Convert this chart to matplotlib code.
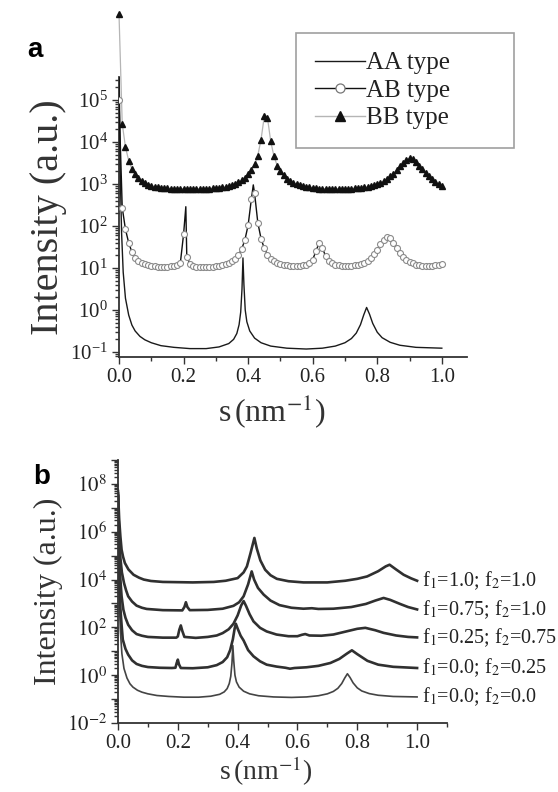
import matplotlib.pyplot as plt
import numpy as np
from matplotlib.ticker import FixedLocator, LogLocator, FuncFormatter, NullFormatter, MultipleLocator

plt.rcParams['font.family'] = ['Liberation Serif', 'DejaVu Serif']
plt.rcParams['mathtext.fontset'] = 'stix'

# ---- panel a: symbols every 0.01 nm^-1, values as log10(intensity)
S_MARK = np.round(np.arange(101) * 0.01, 2)

AB_LOG = [5.00, 2.44, 1.92, 1.60, 1.38, 1.24, 1.17, 1.12, 1.09, 1.07,
          1.05, 1.04, 1.03, 1.03, 1.03, 1.03, 1.04, 1.05, 1.07, 1.12,
          1.80, 1.27, 1.10, 1.05, 1.03, 1.02, 1.02, 1.02, 1.02, 1.03,
          1.04, 1.05, 1.07, 1.09, 1.12, 1.16, 1.22, 1.31, 1.45, 1.67,
          2.02, 2.64, 2.78, 2.08, 1.70, 1.47, 1.32, 1.22, 1.16, 1.12,
          1.09, 1.07, 1.06, 1.05, 1.05, 1.05, 1.05, 1.06, 1.08, 1.12,
          1.20, 1.40, 1.60, 1.48, 1.28, 1.17, 1.11, 1.08, 1.06, 1.05,
          1.05, 1.05, 1.05, 1.06, 1.07, 1.09, 1.12, 1.17, 1.24, 1.33,
          1.44, 1.56, 1.67, 1.75, 1.72, 1.60, 1.48, 1.36, 1.27, 1.20,
          1.15, 1.11, 1.08, 1.06, 1.05, 1.05, 1.05, 1.05, 1.06, 1.07,
          1.10]

BB_LOG = [7.05, 4.44, 3.88, 3.56, 3.36, 3.24, 3.14, 3.07, 3.02, 2.98,
          2.96, 2.94, 2.92, 2.91, 2.90, 2.90, 2.89, 2.89, 2.89, 2.89,
          2.89, 2.89, 2.89, 2.89, 2.89, 2.89, 2.89, 2.89, 2.89, 2.90,
          2.90, 2.91, 2.92, 2.93, 2.95, 2.97, 3.00, 3.04, 3.09, 3.15,
          3.23, 3.33, 3.47, 3.68, 4.06, 4.61, 4.57, 4.02, 3.66, 3.44,
          3.31, 3.21, 3.13, 3.07, 3.03, 3.00, 2.97, 2.95, 2.93, 2.92,
          2.91, 2.90, 2.89, 2.89, 2.89, 2.89, 2.89, 2.89, 2.89, 2.89,
          2.89, 2.89, 2.89, 2.90, 2.90, 2.91, 2.92, 2.93, 2.95, 2.97,
          3.00, 3.03, 3.07, 3.12, 3.18, 3.25, 3.33, 3.42, 3.51, 3.58,
          3.62, 3.60, 3.53, 3.44, 3.35, 3.26, 3.18, 3.11, 3.05, 3.00,
          2.96]

# extra line points of the AB curve between the symbols
AB_SPIKE_S = [0.207, 0.416]
AB_SPIKE_LOG = [2.46, 2.98]

AA_S = [0.0, 0.004, 0.008, 0.013, 0.02, 0.03, 0.04, 0.05, 0.065, 0.08,
        0.10, 0.13, 0.17, 0.22, 0.27, 0.31, 0.34, 0.355, 0.365, 0.372,
        0.377, 0.381, 0.384, 0.387, 0.391, 0.396, 0.405, 0.42, 0.44, 0.47,
        0.52, 0.58, 0.63, 0.67, 0.70, 0.72, 0.735, 0.748, 0.758, 0.767,
        0.776, 0.786, 0.80, 0.815, 0.84, 0.87, 0.92, 1.0]
AA_LOG = [6.0, 3.2, 1.84, 0.90, 0.28, -0.12, -0.36, -0.50, -0.63, -0.71,
          -0.78, -0.85, -0.89, -0.92, -0.92, -0.88, -0.80, -0.70, -0.56, -0.35,
          -0.05, 0.50, 1.24, 0.60, 0.00, -0.28, -0.50, -0.67, -0.78, -0.86,
          -0.91, -0.93, -0.91, -0.86, -0.78, -0.68, -0.55, -0.35, -0.12, 0.06,
          -0.10, -0.32, -0.53, -0.66, -0.77, -0.84, -0.89, -0.91]

# ---- panel b
B2_S = [0.0, 0.004, 0.008, 0.012, 0.016, 0.025, 0.034, 0.047, 0.062, 0.08,
        0.10, 0.14, 0.18, 0.192, 0.196, 0.20, 0.204, 0.21, 0.25, 0.30,
        0.33, 0.35, 0.365, 0.375, 0.384, 0.39, 0.394, 0.40, 0.41, 0.42,
        0.435, 0.453, 0.475, 0.497, 0.53, 0.56, 0.575, 0.59, 0.63, 0.67,
        0.71, 0.74, 0.765, 0.782, 0.80, 0.834, 0.87, 0.92, 1.0]
B2_LOG = [7.5, 4.0, 2.8, 2.1, 1.49, 1.10, 0.86, 0.62, 0.47, 0.39,
          0.34, 0.31, 0.30, 0.31, 0.50, 0.65, 0.45, 0.30, 0.29, 0.33,
          0.42, 0.55, 0.75, 1.05, 1.50, 1.95, 2.15, 1.95, 1.65, 1.45,
          1.05, 0.79, 0.58, 0.44, 0.36, 0.31, 0.27, 0.30, 0.33, 0.39,
          0.51, 0.68, 0.90, 1.04, 0.88, 0.60, 0.44, 0.35, 0.30]

B3_S = [0.0, 0.004, 0.008, 0.012, 0.018, 0.025, 0.034, 0.047, 0.062, 0.08,
        0.10, 0.15, 0.195, 0.20, 0.205, 0.21, 0.215, 0.222, 0.26, 0.30,
        0.33, 0.35, 0.37, 0.386, 0.40, 0.412, 0.42, 0.428, 0.44, 0.453,
        0.475, 0.497, 0.53, 0.57, 0.60, 0.615, 0.626, 0.64, 0.68, 0.72,
        0.76, 0.80, 0.827, 0.86, 0.888, 0.93, 0.97, 1.0]
B3_LOG = [7.5, 5.0, 4.0, 3.3, 2.74, 2.40, 2.11, 1.88, 1.72, 1.65,
          1.60, 1.57, 1.57, 1.62, 1.90, 2.08, 1.85, 1.60, 1.56, 1.60,
          1.66, 1.76, 1.92, 2.15, 2.50, 2.92, 3.10, 2.90, 2.55, 2.25,
          1.98, 1.83, 1.70, 1.63, 1.63, 1.69, 1.72, 1.66, 1.65, 1.70,
          1.82, 1.94, 1.98, 1.88, 1.77, 1.66, 1.60, 1.58]

B4_S = [0.0, 0.004, 0.008, 0.013, 0.02, 0.027, 0.034, 0.047, 0.062, 0.08,
        0.096, 0.15, 0.215, 0.222, 0.227, 0.232, 0.24, 0.30, 0.35, 0.386,
        0.405, 0.42, 0.435, 0.447, 0.455, 0.468, 0.487, 0.51, 0.54, 0.58,
        0.62, 0.648, 0.67, 0.72, 0.78, 0.829, 0.86, 0.888, 0.91, 0.943,
        0.97, 1.0]
B4_LOG = [7.6, 5.8, 4.9, 4.3, 3.86, 3.55, 3.30, 3.08, 2.91, 2.82,
          2.77, 2.72, 2.71, 2.85, 3.05, 2.85, 2.72, 2.73, 2.78, 2.90,
          3.05, 3.30, 3.80, 4.34, 4.00, 3.65, 3.37, 3.12, 2.93, 2.82,
          2.78, 2.80, 2.77, 2.78, 2.85, 2.98, 3.12, 3.23, 3.15, 2.98,
          2.85, 2.75]

B5_S = [0.0, 0.004, 0.008, 0.012, 0.017, 0.023, 0.035, 0.052, 0.07, 0.086,
        0.11, 0.15, 0.25, 0.32, 0.36, 0.40, 0.42, 0.431, 0.443, 0.456,
        0.464, 0.476, 0.492, 0.51, 0.531, 0.57, 0.62, 0.70, 0.76, 0.80,
        0.833, 0.87, 0.895, 0.908, 0.93, 0.955, 0.98, 1.0]
B5_LOG = [7.7, 6.5, 5.8, 5.25, 4.95, 4.69, 4.42, 4.20, 4.08, 4.00,
          3.94, 3.90, 3.88, 3.90, 3.95, 4.06, 4.30, 4.55, 5.10, 5.74,
          5.30, 4.80, 4.41, 4.18, 4.03, 3.93, 3.88, 3.88, 3.95, 4.03,
          4.13, 4.35, 4.55, 4.62, 4.42, 4.20, 4.05, 3.95]

B_LABELS = ['f$_1$=0.0; f$_2$=0.0', 'f$_1$=0.0; f$_2$=0.25',
            'f$_1$=0.25; f$_2$=0.75', 'f$_1$=0.75; f$_2$=1.0',
            'f$_1$=1.0; f$_2$=1.0']

AXC = '#333333'
W, H = 558, 792


def style_axes(ax):
    for side in ['top', 'right']:
        ax.spines[side].set_visible(False)
    for side in ['left', 'bottom']:
        ax.spines[side].set_color(AXC)
        ax.spines[side].set_linewidth(1.3)
    ax.tick_params(which='both', direction='out', colors=AXC, labelcolor='#222222',
                   labelsize=15, width=1.0)
    ax.tick_params(which='major', length=5, pad=3)
    ax.tick_params(which='minor', length=3)
    ax.xaxis.set_major_locator(MultipleLocator(0.2))
    ax.xaxis.set_minor_locator(MultipleLocator(0.1))
    ax.xaxis.set_major_formatter(FuncFormatter(lambda v, p: f'{v:.1f}'))


fig = plt.figure(figsize=(W / 100, H / 100), dpi=100)

# ---------------- panel a
ax = fig.add_axes([119 / W, 1 - 357 / H, 348 / W, 280 / H])
style_axes(ax)
ax.set_yscale('log')
ax.set_xlim(0, 1.078)
ax.set_ylim(10 ** -1.12, 10 ** 5.55)

aa_line, = ax.plot(AA_S, 10 ** np.array(AA_LOG), color='#1a1a1a', lw=1.0,
                   label='AA type', zorder=3)

ab_s = np.concatenate([S_MARK, AB_SPIKE_S])
ab_l = np.concatenate([AB_LOG, AB_SPIKE_LOG])
order = np.argsort(ab_s)
ax.plot(ab_s[order], 10 ** ab_l[order], color='#111111', lw=1.0, zorder=3)
ax.plot(S_MARK, 10 ** np.array(AB_LOG), ls='none', marker='o', ms=4.3,
        mfc='white', mec='#8a8a8a', mew=0.8, zorder=4)
ab_handle, = ax.plot([], [], color='#111111', lw=1.0, marker='o', ms=6.5,
                     mfc='white', mec='#777777', mew=0.9, label='AB type')

ax.plot(S_MARK, 10 ** np.array(BB_LOG), color='#b5b5b5', lw=0.9,
        clip_on=False, zorder=3)
ax.plot(S_MARK, 10 ** np.array(BB_LOG), ls='none', marker='^', ms=4.4,
        color='#111111', clip_on=False, zorder=4)
bb_handle, = ax.plot([], [], color='#b5b5b5', lw=1.0, marker='^', ms=6.5,
                     mfc='#111111', mec='#111111', label='BB type')

ax.yaxis.set_major_locator(LogLocator(base=10, numticks=20))
ax.yaxis.set_minor_locator(LogLocator(base=10, subs=np.arange(2, 10), numticks=20))
ax.yaxis.set_minor_formatter(NullFormatter())

ax.set_ylabel('Intensity (a.u.)', fontsize=29, color='#333333', labelpad=2)
ax.set_xlabel('s$\\,$(nm$^{-1}$)', fontsize=23, color='#333333')
ax.xaxis.set_label_coords(0.44, -0.125)

leg = ax.legend(handles=[aa_line, ab_handle, bb_handle], loc='upper left',
                bbox_to_anchor=((296 - 119) / 348, (357 - 36) / 280, 218 / 348, 0.01),
                mode='expand', fontsize=18, frameon=True, fancybox=False,
                edgecolor='#888888', handlelength=2.0, handletextpad=0.05,
                labelspacing=0.2, borderpad=0.75, borderaxespad=0)
leg.get_frame().set_linewidth(1.2)
for t in leg.get_texts():
    t.set_color('#222222')

fig.text(35 / W, 1 - 50 / H, 'a', fontsize=20, fontweight='bold',
         family='Liberation Sans', ha='center', va='center')

# ---------------- panel b
bx = fig.add_axes([118 / W, 1 - 723 / H, 329 / W, 263 / H])
style_axes(bx)
bx.set_yscale('log')
bx.set_xlim(0, 1.1)
bx.set_ylim(1e-2, 1e9)

curves = [(AA_S, AA_LOG, 1.2, '#444444'),
          (B2_S, B2_LOG, 1.9, '#303030'),
          (B3_S, B3_LOG, 1.9, '#303030'),
          (B4_S, B4_LOG, 1.9, '#303030'),
          (B5_S, B5_LOG, 1.9, '#303030')]
for (s, lg, lw, c), lab in zip(curves, B_LABELS):
    bx.plot(s, 10 ** np.array(lg), color=c, lw=lw)
    bx.text(1.017, 10 ** lg[-1], lab, fontsize=14.5, color='#222222',
            ha='left', va='center', clip_on=False)

bx.yaxis.set_major_locator(FixedLocator(10.0 ** np.arange(-2, 10)))
bx.yaxis.set_minor_locator(LogLocator(base=10, subs=np.arange(2, 10), numticks=30))
bx.yaxis.set_minor_formatter(NullFormatter())
bx.yaxis.set_major_formatter(FuncFormatter(
    lambda v, p: f'$10^{{{int(round(np.log10(v)))}}}$' if int(round(np.log10(v))) % 2 == 0 else ''))

bx.set_ylabel('Intensity (a.u.)', fontsize=23, color='#333333', labelpad=3)
bx.set_xlabel('s$\\,$(nm$^{-1}$)', fontsize=20, color='#333333')
bx.xaxis.set_label_coords(0.45, -0.122)

fig.text(42 / W, 1 - 477 / H, 'b', fontsize=20, fontweight='bold',
         family='Liberation Sans', ha='center', va='center')

fig.savefig('out.png', dpi=100)
